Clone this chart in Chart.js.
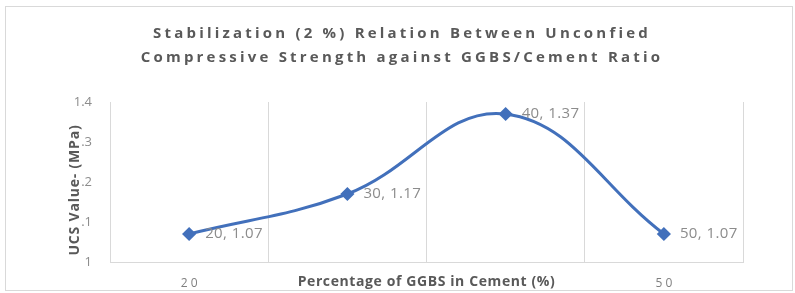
<!DOCTYPE html>
<html>
<head>
<meta charset="utf-8">
<script src="https://cdn.jsdelivr.net/npm/chart.js@4"></script>
<style>
  html, body { margin: 0; padding: 0; background: #fff; }
  #wrap { position: absolute; left: 5px; top: 6px; width: 786px; height: 283px; border: 1px solid #d9d9d9; }
</style>
</head>
<body>
<div id="wrap"><canvas id="chart"></canvas></div>
<script>
// data
const categories = ['20', '30', '40', '50'];
const ucsValues = [1.07, 1.17, 1.37, 1.07];
const xTickLabels = ['2 0', '', '', '5 0'];
const yTickLabels = { '1': '1', '1.1': '1.1', '1.2': '1.2', '1.3': '1.3', '1.4': '1.4' };
const titleLines = ['Stabilization (2 %) Relation Between Unconfied', 'Compressive Strength against GGBS/Cement Ratio'];

const grey = '#595959';

// text with letter spacing, centred by hand (canvas centre ignores the spacing)
function spacedText(ctx, text, cx, cy, gap) {
    ctx.letterSpacing = '0px';
    const w = ctx.measureText(text).width + gap * text.length;
    ctx.letterSpacing = gap + 'px';
    ctx.textAlign = 'left';
    ctx.fillText(text, cx - w / 2, cy);
    ctx.letterSpacing = '0px';
}

// chart title, axis titles and point labels
const extras = {
    id: 'extras',
    afterDraw(chart) {
        const ctx = chart.ctx;
        const area = chart.chartArea;
        const mid = chart.width / 2 + 3;
        ctx.save();
        ctx.textBaseline = 'middle';

        ctx.font = 'bold 15px "Open Sans"';
        ctx.fillStyle = grey;
        spacedText(ctx, titleLines[0], mid, 27, 3.2);
        spacedText(ctx, titleLines[1], mid, 51, 3.2);

        // point labels "x, y"
        const meta = chart.getDatasetMeta(0);
        ctx.font = '15px "Open Sans"';
        ctx.fillStyle = '#8c8c8c';
        ctx.textAlign = 'left';
        ctx.letterSpacing = '0.4px';
        meta.data.forEach((pt, i) => {
            ctx.fillText(categories[i] + ', ' + ucsValues[i].toFixed(2), pt.x + 16, pt.y);
        });
        ctx.letterSpacing = '0px';

        // x title
        ctx.font = 'bold 14px "Open Sans"';
        ctx.fillStyle = grey;
        spacedText(ctx, 'Percentage of GGBS in Cement (%)', (area.left + area.right) / 2, area.bottom + 20, 0.6);

        // y title, sits over the tick labels like in the original
        const yt = 'UCS Value- (MPa)';
        ctx.translate(69, (area.top + area.bottom) / 2 + 8);
        ctx.rotate(-Math.PI / 2);
        ctx.font = 'bold 14px "Open Sans"';
        const w = ctx.measureText(yt).width + 0.8 * yt.length;
        ctx.fillStyle = '#fff';
        ctx.fillRect(-w / 2 - 2, -7, w + 4, 14);
        ctx.fillStyle = grey;
        spacedText(ctx, yt, 0, 0, 0.8);
        ctx.restore();
    }
};

new Chart(document.getElementById('chart'), {
    type: 'line',
    data: {
        labels: categories,
        datasets: [{
            data: ucsValues,
            borderColor: '#4270bb',
            backgroundColor: '#4270bb',
            borderWidth: 3,
            tension: 0.4,
            pointStyle: 'rectRot',
            pointRadius: 5,
            pointHoverRadius: 5
        }]
    },
    options: {
        responsive: true,
        maintainAspectRatio: false,
        animation: false,
        layout: { padding: { left: 0, right: 49, top: 95, bottom: 0 } },
        plugins: {
            legend: { display: false },
            tooltip: { enabled: false },
            title: { display: false }
        },
        scales: {
            x: {
                type: 'category',
                offset: true,
                afterFit: s => { s.height = 28; },
                grid: { offset: true, drawTicks: false, color: '#d9d9d9', lineWidth: 1 },
                border: { display: true, color: '#d9d9d9' },
                ticks: {
                    padding: 14,
                    color: '#7f7f7f',
                    font: { family: 'Open Sans', size: 12 },
                    maxRotation: 0,
                    autoSkip: false,
                    callback: (v, i) => xTickLabels[i]
                }
            },
            y: {
                min: 1,
                max: 1.4,
                afterFit: s => { s.width = 104; },
                grid: { display: false, drawTicks: false },
                border: { display: true, color: '#d9d9d9' },
                ticks: {
                    stepSize: 0.1,
                    padding: 18,
                    color: '#8c8c8c',
                    font: { family: 'Open Sans', size: 13 },
                    callback: v => yTickLabels[String(Math.round(v * 10) / 10)]
                }
            }
        }
    },
    plugins: [extras]
});
</script>
</body>
</html>
